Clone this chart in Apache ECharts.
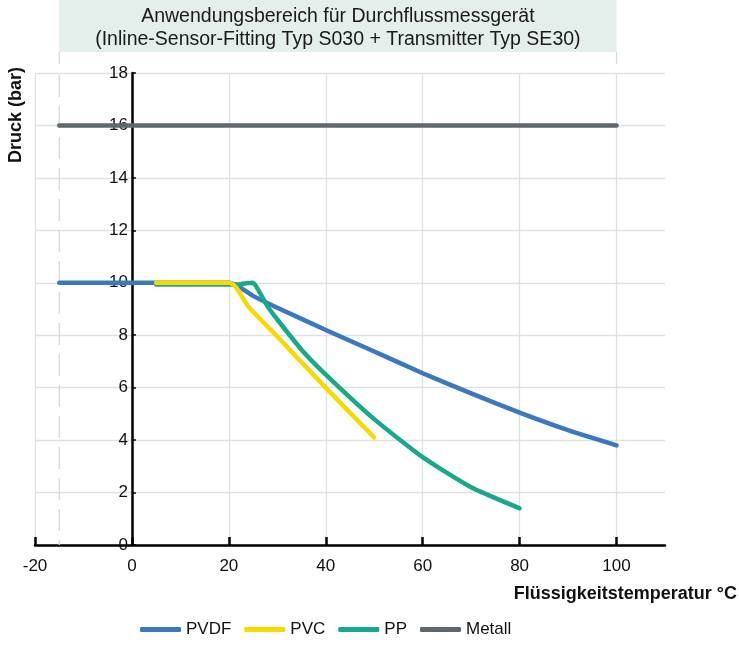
<!DOCTYPE html>
<html><head><meta charset="utf-8">
<script src="https://cdn.jsdelivr.net/npm/echarts@6/dist/echarts.min.js"></script>
<style>html,body{margin:0;padding:0;background:#fff}#c{width:739px;height:645px}</style>
</head><body><div id="c"></div>
<script>
// ---- data ----
const xTickValues = [-20, 0, 20, 40, 60, 80, 100];
const pvdfTemp  = [-15, 20, 22.5, 25, 30, 40, 50, 60, 70, 80, 90, 100];
const pvdfPress = [10, 10, 9.8, 9.5, 9.05, 8.2, 7.38, 6.55, 5.78, 5.05, 4.38, 3.8];
const pvcTemp   = [5, 20, 21, 22, 24, 30, 40, 50];
const pvcPress  = [10, 10, 9.92, 9.7, 9.1, 7.95, 6.0, 4.1];
const ppTemp    = [5, 22, 23.5, 25, 26, 28, 30, 35, 40, 50, 60, 70, 80];
const ppPress   = [9.93, 9.93, 9.98, 10, 9.75, 9.1, 8.6, 7.45, 6.5, 4.8, 3.35, 2.2, 1.4];
const metallTemp  = [-15, 100];
const metallPress = [16, 16];
const rangeStart = -15, rangeEnd = 100;
const titleLines = ['Anwendungsbereich für Durchflussmessgerät', '(Inline-Sensor-Fitting Typ S030 + Transmitter Typ SE30)'];
const yName = 'Druck (bar)';
const xName = 'Flüssigkeitstemperatur °C';
const names = ['PVDF', 'PVC', 'PP', 'Metall'];
const colors = {PVDF: '#3a78c0', PVC: '#fcd700', PP: '#17a98a', Metall: '#5e686e'};

const zip = (a, b) => a.map((v, i) => [v, b[i]]);
const FONT = 'Liberation Sans';

function lineSeries(name, t, p) {
  return {
    name, type: 'line', data: zip(t, p), showSymbol: false, symbol: 'none',
    smooth: 0.2,
    lineStyle: {width: 4.5, color: colors[name], cap: 'round', join: 'round'},
    itemStyle: {color: colors[name]}, emphasis: {disabled: true}
  };
}

const chart = echarts.init(document.getElementById('c'), null, {renderer: 'canvas'});
const baseOption = {
  animation: false,
  textStyle: {fontFamily: FONT},
  grid: {left: 35, right: 74, top: 73, bottom: 100, containLabel: false},
  xAxis: {
    type: 'value', min: -20, max: 110, interval: 10,
    axisLine: {show: true, onZero: true, lineStyle: {color: '#000', width: 2.5}},
    axisTick: {show: true, inside: true, length: 8, customValues: xTickValues, lineStyle: {color: '#000', width: 2.5}},
    axisLabel: {customValues: xTickValues, margin: 13, fontSize: 17, color: '#111', fontFamily: FONT},
    splitLine: {show: true, lineStyle: {color: '#dfe1e1', width: 1.3}}
  },
  yAxis: [{
    type: 'value', min: 0, max: 18, interval: 2, z: 3, position: 'left', offset: 0,
    axisLine: {show: true, onZero: false, lineStyle: {color: '#000', width: 2.5}},
    axisTick: {show: true, inside: true, length: 4, lineStyle: {color: '#000', width: 1.5}},
    axisLabel: {margin: 4, fontSize: 17, color: '#111', fontFamily: FONT, padding: [6, 0, 0, 0]},
    splitLine: {show: false}
  }, {
    type: 'value', min: 0, max: 18, interval: 2, position: 'left',
    axisLine: {show: false}, axisTick: {show: false}, axisLabel: {show: false},
    splitLine: {show: true, lineStyle: {color: '#dfe1e1', width: 1.3}}
  }],
  legend: {
    data: names, left: 140, top: 621, padding: 0, itemGap: 13,
    itemWidth: 41, itemHeight: 5, icon: 'roundRect',
    textStyle: {fontSize: 17, color: '#111', fontFamily: FONT}
  },
  series: [
    lineSeries('PVDF', pvdfTemp, pvdfPress),
    lineSeries('PP', ppTemp, ppPress),
    lineSeries('PVC', pvcTemp, pvcPress),
    lineSeries('Metall', metallTemp, metallPress)
  ]
};
chart.setOption(baseOption);

// place the y axis at x = 0 using the library's own scale
const pLeft = chart.convertToPixel({gridIndex: 0}, [-20, 0]);
const pZero = chart.convertToPixel({gridIndex: 0}, [0, 0]);
chart.setOption({yAxis: [{offset: -(pZero[0] - pLeft[0])}, {}]});

const p0 = chart.convertToPixel({gridIndex: 0}, [rangeStart, 0]);
const p1 = chart.convertToPixel({gridIndex: 0}, [rangeEnd, 18]);
const xs = p0[0], xe = p1[0], yBottom = p0[1], yTop = p1[1];
chart.setOption({
  graphic: [
    {type: 'rect', shape: {x: xs, y: 0, width: xe - xs, height: 52}, style: {fill: '#e4eeeb'}, z: -1},
    {type: 'text', x: (xs + xe) / 2, y: 17, style: {text: titleLines[0], align: 'center', verticalAlign: 'middle', font: '19.5px "Liberation Sans"', fill: '#1a1a1a'}},
    {type: 'text', x: (xs + xe) / 2, y: 40, style: {text: titleLines[1], align: 'center', verticalAlign: 'middle', font: '19.5px "Liberation Sans"', fill: '#1a1a1a'}},
    {type: 'line', shape: {x1: xs, y1: 52, x2: xs, y2: 64}, style: {stroke: '#d6d9d9', lineWidth: 1.3}},
    {type: 'line', shape: {x1: xe, y1: 52, x2: xe, y2: 64}, style: {stroke: '#d6d9d9', lineWidth: 1.3}},
    {type: 'line', shape: {x1: xs, y1: yTop + 2, x2: xs, y2: yBottom}, style: {stroke: '#d6d9d9', lineWidth: 1.3, lineDash: [22, 9]}, z: 1},
    {type: 'text', x: 16, y: 115, rotation: Math.PI / 2, style: {text: yName, align: 'center', verticalAlign: 'middle', font: 'bold 18px "Liberation Sans"', fill: '#111'}},
    {type: 'text', x: 737, y: 594, style: {text: xName, align: 'right', verticalAlign: 'middle', font: 'bold 18px "Liberation Sans"', fill: '#111'}}
  ]
});
</script></body></html>
